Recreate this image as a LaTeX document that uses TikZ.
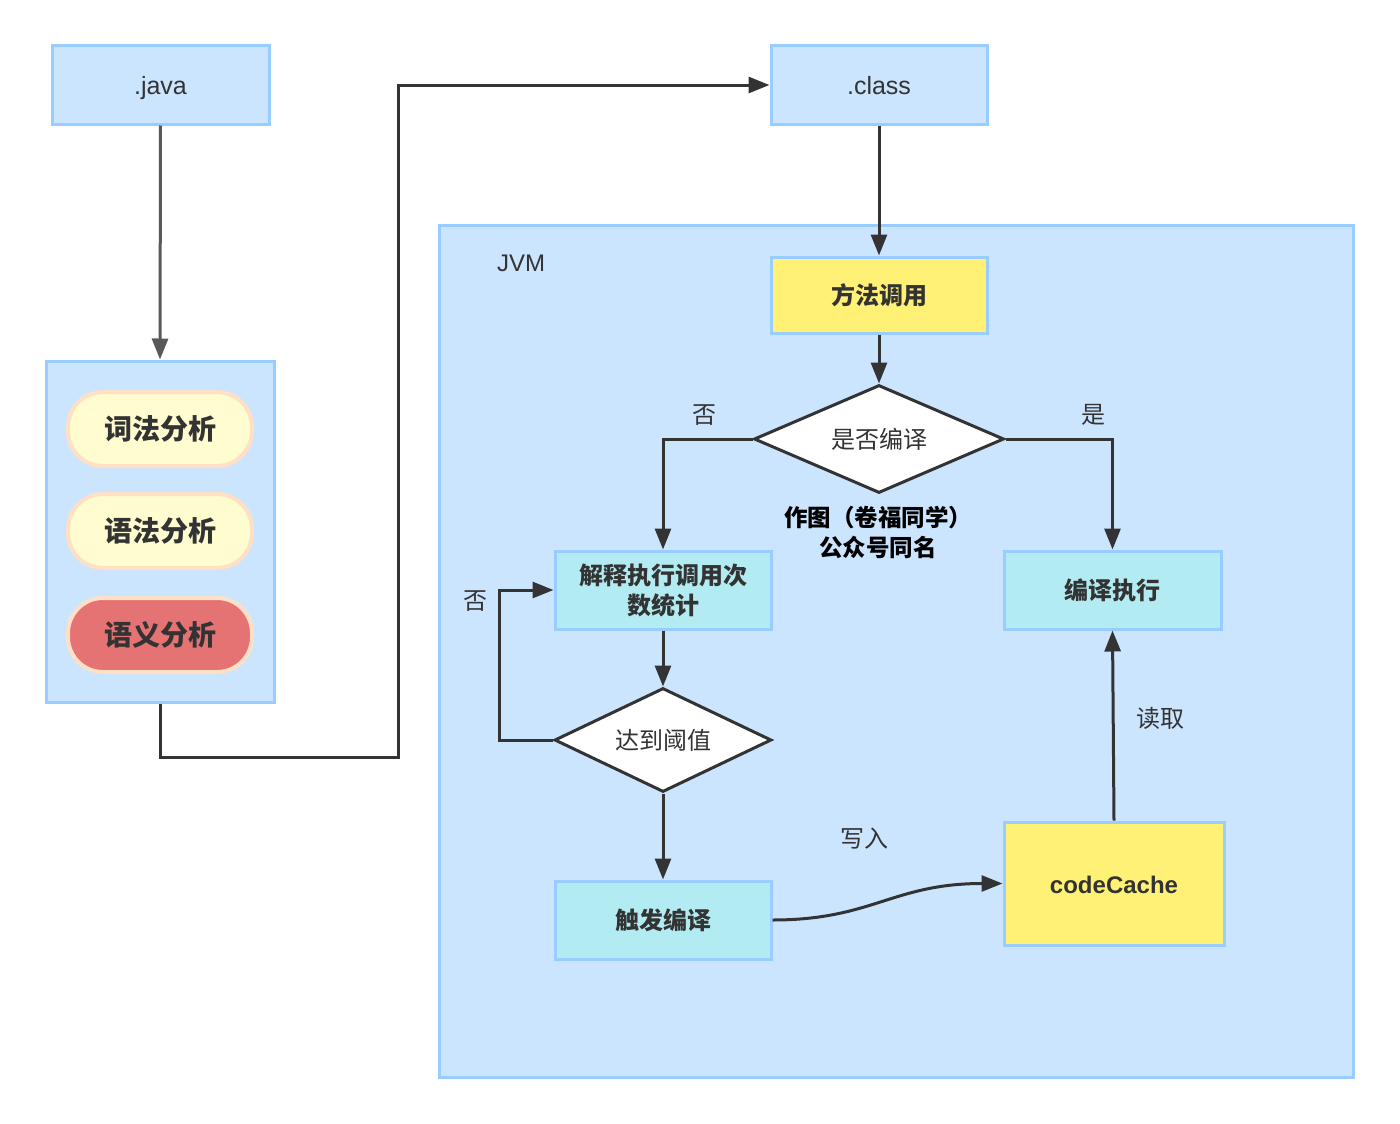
\documentclass[tikz,border=0pt]{standalone}
\usepackage{fontspec}
\setmainfont{Noto Sans CJK SC}
\newfontfamily\latinf{Liberation Sans}
\usetikzlibrary{shapes.geometric,arrows.meta}
\definecolor{lblue}{HTML}{CCE5FF}
\definecolor{bblue}{HTML}{99CCFF}
\definecolor{cyanf}{HTML}{B2EBF2}
\definecolor{yelf}{HTML}{FFF176}
\definecolor{pillf}{HTML}{FFFCCF}
\definecolor{pillb}{HTML}{FFE0C4}
\definecolor{redf}{HTML}{E57373}
\definecolor{txt}{HTML}{333333}
\tikzset{
  box/.style={draw=bblue, line width=3pt, fill=lblue, text=txt, font=\latinf\fontsize{25}{28}\selectfont, inner sep=0pt},
  latin/.style={text height=24pt, text depth=4pt},
  cbox/.style={box, fill=cyanf, font=\fontsize{24}{30}\selectfont\bfseries, align=center},
  ybox/.style={box, fill=yelf, font=\fontsize{24}{28}\selectfont\bfseries},
  pill/.style={draw=pillb, line width=4pt, fill=pillf, rounded corners=35pt, minimum width=184pt, minimum height=74pt, text=txt, font=\fontsize{28}{32}\selectfont\bfseries},
  dia/.style={diamond, draw=txt, line width=3pt, fill=white, minimum width=250pt, minimum height=108pt, shape aspect=2.3, inner sep=0pt, text=txt, font=\fontsize{24}{28}\selectfont},
  arr/.style={draw=txt, line width=3pt, -{Triangle[length=21pt,width=16pt]}},
  lbl/.style={text=txt, font=\fontsize{24}{28}\selectfont},
}
\begin{document}
\begin{tikzpicture}[x=1pt,y=-1pt]
\useasboundingbox (0,0) rectangle (1400,1124);
\fill[white] (0,0) rectangle (1400,1124);
% containers
\node[box, minimum width=228pt, minimum height=341pt] (lc) at (160,531.5) {};
\node[box, minimum width=914pt, minimum height=852pt] (jvm) at (896,651) {};
\node[lbl, font=\latinf\fontsize{24}{28}\selectfont] (jvmlbl) at (521,263) {JVM};
% top boxes
\node[box, latin, minimum width=217pt, minimum height=78pt] (java) at (160.5,85) {.java};
\node[box, latin, minimum width=216pt, minimum height=78pt] (cls) at (879,85) {.class};
% pills
\node[pill] (p1) at (160,429) {词法分析};
\node[pill] (p2) at (160,531) {语法分析};
\node[pill, fill=redf] (p3) at (160,635) {语义分析};
% jvm content
\node[ybox, minimum width=216pt, minimum height=76pt] (call) at (879,295) {方法调用};
\node[dia] (d1) at (879,439) {是否编译};
\node[font=\fontsize{23.5}{30}\selectfont\bfseries, align=center, text=black] (note) at (878,533) {作图（卷福同学）\\公众号同名};
\node[cbox, minimum width=216pt, minimum height=78pt] (interp) at (663,590) {解释执行调用次\\数统计};
\node[cbox, minimum width=217pt, minimum height=78pt] (comp) at (1112.5,590) {编译执行};
\node[dia, minimum width=217pt, minimum height=104pt, shape aspect=2.1] (d2) at (663,740) {达到阈值};
\node[cbox, minimum width=216pt, minimum height=78pt] (trig) at (663,920) {触发编译};
\node[ybox, latin, minimum width=220pt, minimum height=123pt, font=\latinf\fontsize{24}{28}\selectfont\bfseries] (cc) at (1114,883.5) {codeCache};
% labels
\node[lbl] (no1) at (704,415) {否};
\node[lbl] (yes1) at (1093,415) {是};
\node[lbl] (no2) at (475,601) {否};
\node[lbl] (read) at (1160,718) {读取};
\node[lbl] (write) at (864,839) {写入};
% connectors
\draw[arr, draw=black!65] (java.south) -- (lc.north);
\coordinate (b1) at (398,757);
\draw[arr] (lc.south) |- (b1) |- (cls.west);
\draw[arr] (cls.south) -- (call.north);
\draw[arr] (call.south) -- (d1.north);
\draw[arr] (d1.west) -| (interp.north);
\draw[arr] (d1.east) -| (comp.north);
\draw[arr] (interp.south) -- (d2.north);
\coordinate (b2) at (499,740);
\draw[arr] (d2.west) -- (b2) |- (interp.west);
\draw[arr] (d2.south) -- (trig.north);
\draw[arr] (trig.east) .. controls +(100,0) and +(-110,0) .. (cc.west);
\draw[arr] (cc.north) -- (comp.south);
\end{tikzpicture}
\end{document}
